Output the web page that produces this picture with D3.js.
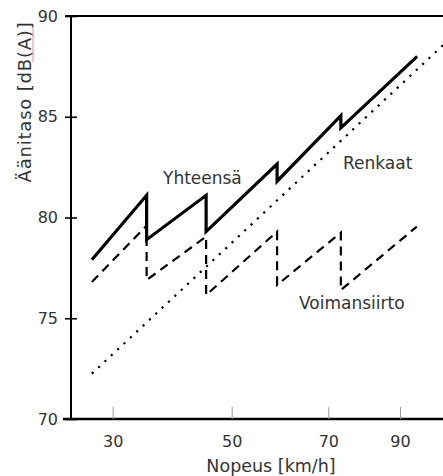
<!DOCTYPE html>
<html>
<head>
<meta charset="utf-8">
<script src="https://cdn.jsdelivr.net/npm/d3@7"></script>
<style>
	body { margin: 0; background: #fff; }
	text { font-family: "DejaVu Sans", sans-serif; fill: #333; }
</style>
</head>
<body>
<svg width="443" height="476"></svg>
<script>
const speedTicks = [30, 50, 70, 90];
const levelTicks = [70, 75, 80, 85, 90];

// Yhteensä (kokonaismelu)
const totalSpeed = [26.5, 35.7, 35.7, 45.7, 45.7, 59.4, 59.4, 73.5, 73.5, 94.8];
const totalLevel = [77.9, 81.1, 78.9, 81.1, 79.3, 82.65, 81.8, 85.05, 84.45, 88.0];

// Voimansiirto
const driveSpeed = [26.5, 35.7, 35.7, 45.7, 45.7, 59.4, 59.4, 73.5, 73.5, 94.7];
const driveLevel = [76.8, 79.6, 76.9, 79.05, 76.15, 79.3, 76.65, 79.25, 76.4, 79.55];

// Renkaat
const tyreSpeed = [26.5, 102];
const tyreLevel = [72.25, 88.55];

const seriesNames = ['Yhteensä', 'Renkaat', 'Voimansiirto'];
const xTitle = 'Nopeus [km/h]';
const yTitle = 'Äänitaso [dB(A)]';

const width = 443;
const axisX = 71;

const svg = d3.select('svg');

// tick spacing in the original is uneven, so the scale is piecewise
const x = d3.scaleLinear()
	.domain(speedTicks)
	.range([112.7, 231.7, 328.3, 400]);

const y = d3.scaleLinear()
	.domain([70, 90])
	.range([419, 16]);

const line = d3.line()
	.x(d => x(d[0]))
	.y(d => y(d[1]));

const series = [
	{ pts: d3.zip(tyreSpeed, tyreLevel), width: 2.2, dash: '2.2,6.5', cap: 'butt' },
	{ pts: d3.zip(driveSpeed, driveLevel), width: 2.2, dash: '9,6', cap: 'butt' },
	{ pts: d3.zip(totalSpeed, totalLevel), width: 3.2, dash: null, cap: 'butt' },
];

// frame
svg.append('line')
	.attr('x1', axisX - 6).attr('x2', width)
	.attr('y1', y(90)).attr('y2', y(90))
	.attr('stroke', '#000').attr('stroke-width', 2);
svg.append('line')
	.attr('x1', axisX - 8).attr('x2', width)
	.attr('y1', y(70)).attr('y2', y(70))
	.attr('stroke', '#000').attr('stroke-width', 2.4);
svg.append('line')
	.attr('x1', axisX).attr('x2', axisX)
	.attr('y1', y(90)).attr('y2', y(70))
	.attr('stroke', '#000').attr('stroke-width', 2);

// x axis
const gx = svg.append('g')
	.attr('transform', `translate(0,${y(70)})`)
	.call(d3.axisBottom(x).tickValues(speedTicks).tickSize(-12).tickPadding(17));
gx.select('.domain').remove();
gx.selectAll('.tick line').attr('stroke', '#999').attr('stroke-width', 1);
gx.selectAll('.tick text')
	.attr('fill', '#333')
	.style('font-family', '"DejaVu Sans", sans-serif')
	.style('font-size', '16px');

// y axis
const gy = svg.append('g')
	.attr('transform', `translate(${axisX},0)`)
	.call(d3.axisLeft(y).tickValues(levelTicks).tickSize(6).tickPadding(7));
gy.select('.domain').remove();
gy.selectAll('.tick line').attr('x1', 6).attr('stroke', '#000').attr('stroke-width', 1.6);
gy.selectAll('.tick text')
	.attr('fill', '#333')
	.style('font-family', '"DejaVu Sans", sans-serif')
	.style('font-size', '16px');

// curves
svg.selectAll('path.curve')
	.data(series)
	.enter()
	.append('path')
	.attr('class', 'curve')
	.attr('d', d => line(d.pts))
	.attr('fill', 'none')
	.attr('stroke', '#000')
	.attr('stroke-width', d => d.width)
	.attr('stroke-dasharray', d => d.dash)
	.attr('stroke-linecap', d => d.cap)
	.attr('stroke-linejoin', 'miter');

// series labels
const labelPos = [[163, 184], [343, 169], [299, 309]];
svg.selectAll('text.name')
	.data(seriesNames)
	.enter()
	.append('text')
	.attr('class', 'name')
	.attr('x', (d, i) => labelPos[i][0])
	.attr('y', (d, i) => labelPos[i][1])
	.style('font-size', '17px')
	.text(d => d);

// axis titles
svg.append('text')
	.attr('x', 271)
	.attr('y', 472)
	.attr('text-anchor', 'middle')
	.style('font-size', '17.5px')
	.text(xTitle);

svg.append('text')
	.attr('transform', 'translate(31,102) rotate(-90)')
	.attr('text-anchor', 'middle')
	.style('font-size', '18px')
	.style('letter-spacing', '0.8px')
	.text(yTitle);

// spell-check squiggle under "dB(A" in the original
svg.append('line')
	.attr('x1', 33).attr('x2', 33)
	.attr('y1', 28).attr('y2', 62)
	.attr('stroke', '#e98a9a').attr('stroke-width', 1);
</script>
</body>
</html>
